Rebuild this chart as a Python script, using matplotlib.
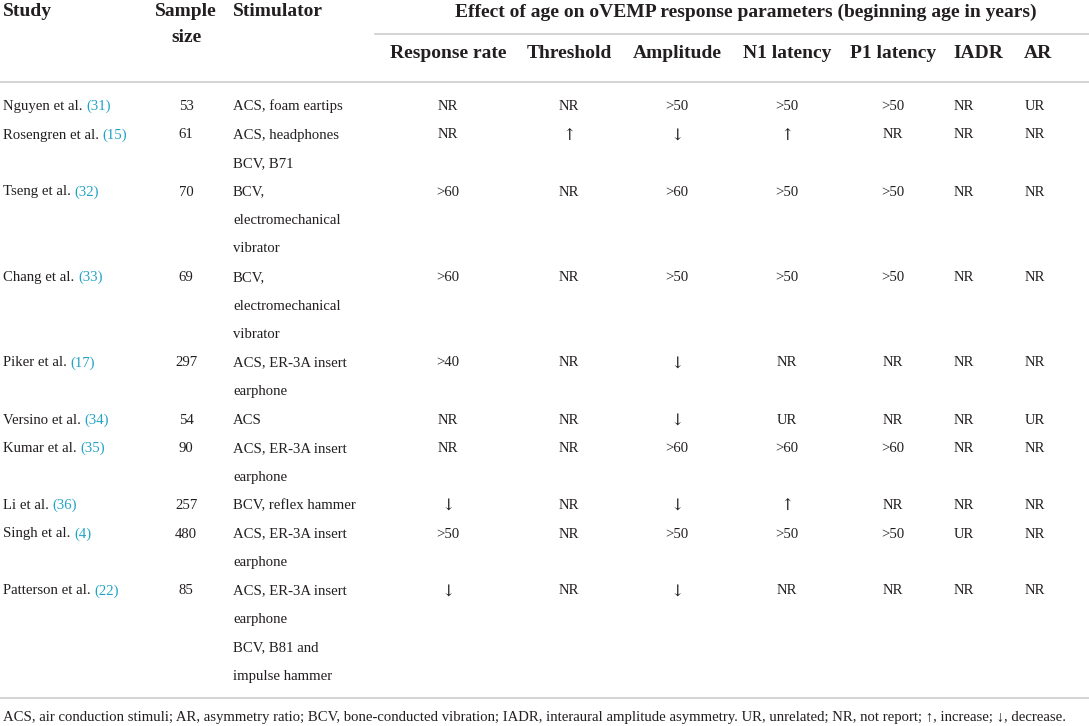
import matplotlib
matplotlib.use("Agg")
import matplotlib.pyplot as plt

# Table content
studies = ["Nguyen et al.", "Rosengren et al.", "Tseng et al.", "Chang et al.",
           "Piker et al.", "Versino et al.", "Kumar et al.", "Li et al.",
           "Singh et al.", "Patterson et al."]
citations = ["(31)", "(15)", "(32)", "(33)", "(17)", "(34)", "(35)", "(36)", "(4)", "(22)"]
sample_size = [53, 61, 70, 69, 297, 54, 90, 257, 480, 85]
stimulator = [
    ["ACS, foam eartips"],
    ["ACS, headphones", "BCV, B71"],
    ["BCV,", "electromechanical", "vibrator"],
    ["BCV,", "electromechanical", "vibrator"],
    ["ACS, ER-3A insert", "earphone"],
    ["ACS"],
    ["ACS, ER-3A insert", "earphone"],
    ["BCV, reflex hammer"],
    ["ACS, ER-3A insert", "earphone"],
    ["ACS, ER-3A insert", "earphone", "BCV, B81 and", "impulse hammer"],
]
response_rate = ["NR", "NR", ">60", ">60", ">40", "NR", "NR", "↓", ">50", "↓"]
threshold = ["NR", "↑", "NR", "NR", "NR", "NR", "NR", "NR", "NR", "NR"]
amplitude = [">50", "↓", ">60", ">50", "↓", "↓", ">60", "↓", ">50", "↓"]
n1_latency = [">50", "↑", ">50", ">50", "NR", "UR", ">60", "↑", ">50", "NR"]
p1_latency = [">50", "NR", ">50", ">50", "NR", "NR", ">60", "NR", ">50", "NR"]
iadr = ["NR", "NR", "NR", "NR", "NR", "NR", "NR", "NR", "UR", "NR"]
ar = ["UR", "NR", "NR", "NR", "NR", "UR", "NR", "NR", "NR", "NR"]

param_headers = ["Response rate", "Threshold", "Amplitude", "N1 latency",
                 "P1 latency", "IADR", "AR"]
group_header = "Effect of age on oVEMP response parameters (beginning age in years)"
footnote = ("ACS, air conduction stimuli; AR, asymmetry ratio; BCV, bone-conducted vibration; "
            "IADR, interaural amplitude asymmetry. UR, unrelated; NR, not report; "
            "\u2191, increase; \u2193, decrease.")

# Layout (pixels)
W, H = 1089, 726
plt.rcParams["font.family"] = ["Liberation Serif", "DejaVu Serif"]
TXT = "#231f20"
CITE = "#21a3c5"
RULE = "#c8c8c8"
BODY = 10.6
HEAD = 14

param_x = [448, 569, 677, 787, 893, 954, 1025]
param_ha = ["center"] * 5 + ["left", "left"]
param_cols = [response_rate, threshold, amplitude, n1_latency, p1_latency, iadr, ar]

fig = plt.figure(figsize=(W / 100, H / 100), dpi=100)
ax = fig.add_axes([0, 0, 1, 1])
ax.set_xlim(0, W)
ax.set_ylim(H, 0)
ax.axis("off")

# Header
hd = dict(fontsize=HEAD, fontweight="bold", color=TXT, va="center")
ax.text(3, 12, "Study", ha="left", **hd)
ax.text(186, 12, "Sample", ha="center", **hd)
ax.text(186, 38, "size", ha="center", **hd)
ax.text(233, 12, "Stimulator", ha="left", **hd)
ax.text(746, 12, group_header, ha="center", **hd)
for x, ha, label in zip(param_x, param_ha, param_headers):
    ax.text(x - (1 if ha == "left" else 0), 54, label, ha=ha, **hd)

ax.plot([375, W], [34, 34], color=RULE, lw=1.1)
ax.plot([0, W], [82, 82], color=RULE, lw=1.1)


def cell(x, y, s, ha):
    # arrows are tiny in Liberation Serif, take them from DejaVu
    if s in ("↑", "↓"):
        ax.text(x, y, s, ha=ha, va="center", fontsize=BODY + 1, color=TXT,
                family=["DejaVu Serif"])
    else:
        ax.text(x, y, s, ha=ha, va="center", fontsize=BODY, color=TXT)


# Body rows
bd = dict(fontsize=BODY, color=TXT, va="center")
y0, dy = 106.5, 28.5
line = 0
for i, study in enumerate(studies):
    y = y0 + dy * line
    t = ax.text(3, y, study + " ", ha="left", **bd)
    ax.annotate(citations[i], xy=(1, 0.5), xycoords=t, ha="left", va="center",
                fontsize=BODY, color=CITE)
    ax.text(186, y, str(sample_size[i]), ha="center", **bd)
    for k, s in enumerate(stimulator[i]):
        ax.text(233, y + dy * k, s, ha="left", **bd)
    for x, ha, col in zip(param_x, param_ha, param_cols):
        cell(x, y, col[i], ha)
    line += len(stimulator[i])

ax.plot([0, W], [698, 698], color=RULE, lw=1.1)
ax.text(3, 717, footnote, ha="left", **bd)

fig.savefig("out.png", dpi=100)
